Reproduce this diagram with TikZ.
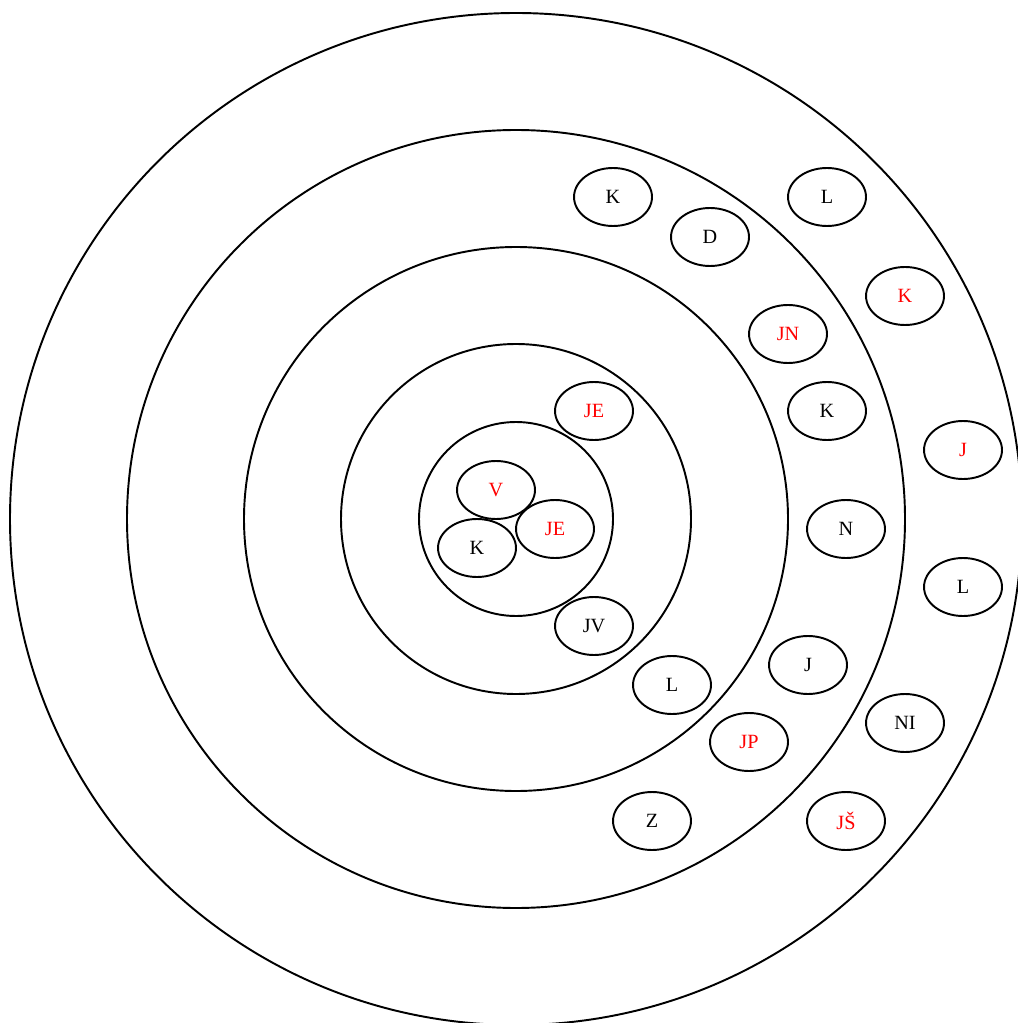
\documentclass[tikz,border=0pt]{standalone}
\usepackage{fontspec}
\setmainfont{Liberation Serif}
\usetikzlibrary{shapes.geometric}
\begin{document}
\begin{tikzpicture}[x=0.02cm, y=-0.02cm, line width=1.1pt,
  tok/.style={draw, ellipse, minimum width=1.56cm, minimum height=1.16cm, inner sep=0pt, font=\fontsize{11.5}{13}\selectfont},
  hot/.style={tok, text=red}]
\useasboundingbox (0,0) rectangle (1017,1023);
% rings
\coordinate (c) at (516,519);
\draw (c) circle (506);
\draw (c) circle (389);
\draw (c) circle (272);
\draw (c) circle (175);
\draw (c) circle (97);
% innermost ring
\node[hot] (v) at (496,490) {V};
\node[hot] (je1) at (555,529) {JE};
\node[tok] (k1) at (477,548) {K};
% second ring
\node[hot] (je2) at (594,411) {JE};
\node[tok] (jv) at (594,626) {JV};
% third ring
\node[tok] (l1) at (672,685) {L};
% fourth ring
\node[tok] (k2) at (613,197) {K};
\node[tok] (d) at (710,237) {D};
\node[hot] (jn) at (788,334) {JN};
\node[tok] (k3) at (827,411) {K};
\node[tok] (n) at (846,529) {N};
\node[tok] (j1) at (808,665) {J};
\node[hot] (jp) at (749,742) {JP};
\node[tok] (z) at (652,821) {Z};
% outer ring
\node[tok] (l2) at (827,197) {L};
\node[hot] (k4) at (905,296) {K};
\node[hot] (j2) at (963,450) {J};
\node[tok] (l3) at (963,587) {L};
\node[tok] (ni) at (905,723) {NI};
\node[hot] (js) at (846,821) {JŠ};
\end{tikzpicture}
\end{document}
